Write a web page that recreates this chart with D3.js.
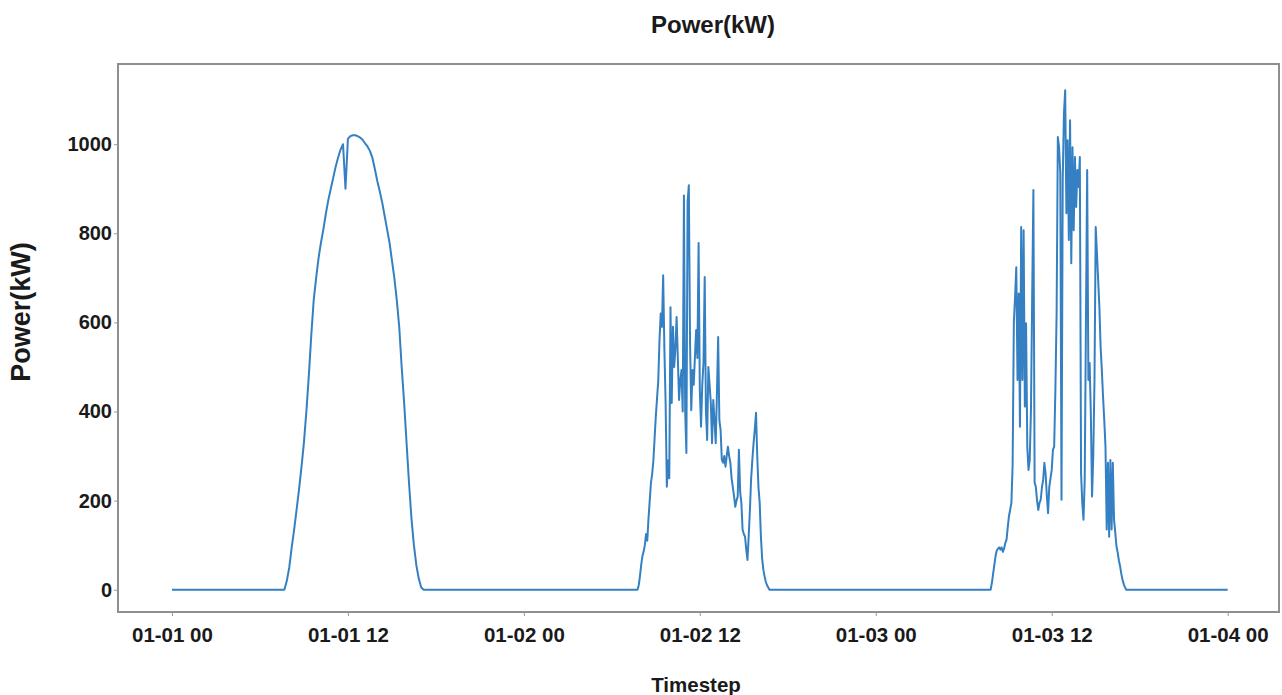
<!DOCTYPE html>
<html>
<head>
<meta charset="utf-8">
<script src="https://cdn.jsdelivr.net/npm/d3@7"></script>
<style>
  body { margin: 0; background: #fff; }
  svg text { font-family: "Liberation Sans", Arial, sans-serif; font-weight: bold; fill: #1a1a1a; }
</style>
</head>
<body>
<svg width="1282" height="695"></svg>
<script>
// Начало каждого "солнечного" участка и шаг измерений (минуты)
const dayStarts = ["2020-01-01T07:40", "2020-01-02T07:45", "2020-01-03T07:50"];
const daySteps = [10, 5, 5];

// Мощность, кВт (1-й день — ясный, шаг 10 мин)
const day1Power = [
    0, 20, 50, 95, 135, 180, 225, 275, 330, 400,
    480, 570, 650, 700, 745, 780, 810, 845, 875, 900,
    925, 950, 970, 988, 1000, 900, 1012, 1018, 1020, 1020,
    1018, 1015, 1010, 1002, 995, 985, 970, 945, 918, 895,
    870, 840, 810, 780, 740, 700, 650, 590, 500, 420,
    330, 240, 160, 100, 55, 25, 5, 0
];

// 2-й день — облачность, шаг 5 мин
const day2Power = [
    0, 10, 30, 55, 75, 85, 100, 125, 110, 160,
    200, 240, 260, 290, 340, 390, 430, 470, 560, 620,
    590, 706, 540, 420, 231, 290, 250, 634, 419, 590,
    500, 540, 612, 520, 426, 470, 493, 400, 885, 403,
    307, 870, 908, 554, 403, 493, 460, 523, 583, 520,
    778, 448, 366, 460, 509, 702, 400, 336, 500, 460,
    419, 329, 426, 380, 329, 440, 567, 380, 359, 292,
    285, 300, 276, 300, 321, 300, 285, 250, 231, 210,
    186, 200, 209, 314, 220, 195, 135, 125, 119, 90,
    67, 120, 179, 250, 292, 329, 360, 397, 300, 230,
    195, 119, 70, 45, 30, 18, 10, 5, 0
];

// 3-й день — переменная облачность, шаг 5 мин
const day3Power = [
    0, 15, 35, 55, 75, 88, 92, 95, 90, 95,
    85, 92, 105, 112, 140, 165, 180, 195, 280, 600,
    657, 724, 471, 665, 366, 814, 471, 807, 411, 598,
    321, 269, 291, 403, 657, 897, 240, 231, 200, 179,
    195, 202, 230, 247, 285, 260, 210, 172, 231, 250,
    269, 314, 321, 450, 620, 1016, 993, 935, 202, 919,
    1069, 1121, 845, 1009, 785, 1054, 733, 993, 807, 971,
    859, 942, 904, 971, 262, 195, 157, 247, 600, 942,
    471, 509, 397, 209, 300, 471, 814, 756, 695, 635,
    545, 493, 433, 380, 321, 135, 285, 119, 291, 135,
    285, 157, 128, 97, 83, 65, 52, 35, 22, 12,
    5, 0
];

// Подписи осей
const xTicks = ["2020-01-01T00:00", "2020-01-01T12:00", "2020-01-02T00:00", "2020-01-02T12:00",
                "2020-01-03T00:00", "2020-01-03T12:00", "2020-01-04T00:00"];
const yTicks = [0, 200, 400, 600, 800, 1000];
const rangeStart = "2020-01-01T00:00";
const rangeEnd = "2020-01-04T00:00";

const parse = d3.timeParse("%Y-%m-%dT%H:%M");

/**
 * Собирает полный ряд: нули ночью + дневные участки.
 */
function buildSeries() {
    const days = [day1Power, day2Power, day3Power];
    let data = [{t: parse(rangeStart), v: 0}];
    days.forEach((values, k) => {
        const start = parse(dayStarts[k]);
        values.forEach((v, i) => {
            data.push({t: d3.timeMinute.offset(start, i * daySteps[k]), v: v});
        });
    });
    data.push({t: parse(rangeEnd), v: 0});
    return data;
}

const svg = d3.select("svg");
const plot = {left: 118, right: 1279, top: 64, bottom: 612}; // область графика

// Шкала времени с запасом по краям (как в ggplot)
const hour = 3600 * 1000;
const x = d3.scaleTime()
    .domain([new Date(parse(rangeStart).getTime() - 3.68 * hour),
             new Date(parse(rangeEnd).getTime() + 3.5 * hour)])
    .range([plot.left, plot.right]);

const y = d3.scaleLinear()
    .domain([-50, 1180])
    .range([plot.bottom, plot.top]);

// Рамка
svg.append("rect")
    .attr("x", plot.left)
    .attr("y", plot.top)
    .attr("width", plot.right - plot.left)
    .attr("height", plot.bottom - plot.top)
    .attr("fill", "none")
    .attr("stroke", "#8f8f8f")
    .attr("stroke-width", 2);

// Ось Y
const yAxis = svg.append("g")
    .attr("transform", `translate(${plot.left},0)`)
    .call(d3.axisLeft(y).tickValues(yTicks).tickFormat(d3.format("d")).tickSize(4).tickPadding(2));
yAxis.select(".domain").remove();
yAxis.selectAll("line").attr("stroke", "#9a9a9a");
yAxis.selectAll("text").style("font-size", "20px");

// Ось X
const xAxis = svg.append("g")
    .attr("transform", `translate(0,${plot.bottom})`)
    .call(d3.axisBottom(x).tickValues(xTicks.map(parse))
        .tickFormat(d3.timeFormat("%m-%d %H")).tickSize(4).tickPadding(11));
xAxis.select(".domain").remove();
xAxis.selectAll("line").attr("stroke", "#9a9a9a");
xAxis.selectAll("text").style("font-size", "20.5px");

// Линия мощности
const line = d3.line()
    .x((d) => x(d.t))
    .y((d) => y(d.v));

svg.append("path")
    .attr("d", line(buildSeries()))
    .attr("fill", "none")
    .attr("stroke", "#3580c2")
    .attr("stroke-width", 2)
    .attr("stroke-linejoin", "round");

// Заголовки
svg.append("text")
    .attr("x", 713)
    .attr("y", 33)
    .attr("text-anchor", "middle")
    .style("font-size", "24px")
    .text("Power(kW)");

svg.append("text")
    .attr("transform", "translate(30,312) rotate(-90)")
    .attr("text-anchor", "middle")
    .style("font-size", "27px")
    .text("Power(kW)");

svg.append("text")
    .attr("x", 696)
    .attr("y", 692)
    .attr("text-anchor", "middle")
    .style("font-size", "20.5px")
    .text("Timestep");
</script>
</body>
</html>
